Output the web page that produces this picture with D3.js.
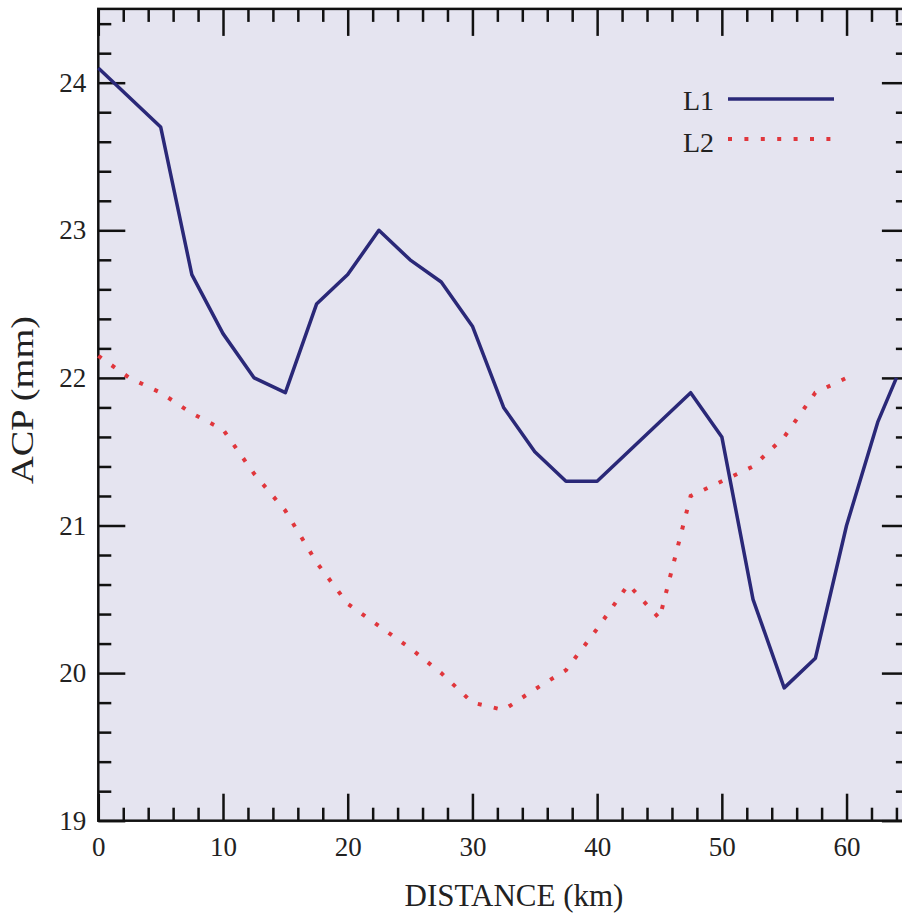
<!DOCTYPE html>
<html>
<head>
<meta charset="utf-8">
<title>ACP vs distance</title>
<script src="https://d3js.org/d3.v7.min.js"></script>
<style>
  body { margin: 0; background: #fff; }
  svg { display: block; font-family: "Liberation Serif", "Times New Roman", serif; }
  .axis path { display: none; }
  .axis line { stroke: #111; stroke-width: 2.5; }
  .axis text { font-size: 27px; fill: #222; font-family: "Liberation Serif", serif; }
</style>
</head>
<body>
<script>
// distance (km) for each sample
var distL1 = [0, 5, 7.5, 10, 12.5, 15, 17.5, 20, 22.5, 25, 27.5, 30, 32.5, 35, 37.5, 40,
              42.5, 45, 47.5, 50, 52.5, 55, 57.5, 60, 62.5, 64];
var acpL1 = [24.1, 23.7, 22.7, 22.3, 22.0, 21.9, 22.5, 22.7, 23.0, 22.8, 22.65, 22.35, 21.8, 21.5, 21.3, 21.3,
             21.5, 21.7, 21.9, 21.6, 20.5, 19.9, 20.1, 21.0, 21.7, 22.0];

var distL2 = [0, 2.5, 5, 7.5, 10, 12.5, 15, 17.5, 20, 22.5, 25, 27.5, 30, 32.5, 35, 37.5, 40,
              42.5, 45, 47.5, 50, 52.5, 55, 57.5, 60];
var acpL2 = [22.15, 22.0, 21.9, 21.76, 21.65, 21.35, 21.1, 20.75, 20.47, 20.32, 20.17, 20.0, 19.8, 19.75, 19.89, 20.02, 20.3,
             20.6, 20.37, 21.2, 21.3, 21.4, 21.6, 21.9, 22.0];

var xMajor = [0, 10, 20, 30, 40, 50, 60];
var yMajor = [19, 20, 21, 22, 23, 24];
var seriesNames = ["L1", "L2"];

var W = 902, H = 915;
var svg = d3.select("body").append("svg")
    .attr("width", W)
    .attr("height", H);

var x = d3.scaleLinear().domain([0, 65]).range([98.3, 908.9]);
var y = d3.scaleLinear().domain([19, 24.5]).range([820.7, 8.9]);

// plot background
svg.append("rect")
    .attr("x", x(0)).attr("y", y(24.5))
    .attr("width", x(65) - x(0)).attr("height", y(19) - y(24.5))
    .attr("fill", "#e5e4f0");

// minor ticks
var xMinor = d3.range(0, 65.01, 2).filter(function(v) { return v % 10 !== 0; });
var yMinor = d3.range(19, 24.51, 0.2).filter(function(v) { return Math.abs(v - Math.round(v)) > 0.01; });

svg.append("g").attr("class", "axis")
    .attr("transform", "translate(0," + y(19) + ")")
    .call(d3.axisBottom(x).tickValues(xMinor).tickSize(-13).tickFormat(""));
svg.append("g").attr("class", "axis")
    .attr("transform", "translate(0," + y(24.5) + ")")
    .call(d3.axisTop(x).tickValues(xMinor).tickSize(-13).tickFormat(""));
svg.append("g").attr("class", "axis")
    .attr("transform", "translate(" + x(0) + ",0)")
    .call(d3.axisLeft(y).tickValues(yMinor).tickSize(-13).tickFormat(""));
svg.append("g").attr("class", "axis")
    .attr("transform", "translate(" + x(65) + ",0)")
    .call(d3.axisRight(y).tickValues(yMinor).tickSize(-13).tickFormat(""));

// major ticks + labels
svg.append("g").attr("class", "axis")
    .attr("transform", "translate(0," + y(19) + ")")
    .call(d3.axisBottom(x).tickValues(xMajor).tickSize(-27).tickPadding(16).tickFormat(d3.format("d")));
svg.append("g").attr("class", "axis")
    .attr("transform", "translate(0," + y(24.5) + ")")
    .call(d3.axisTop(x).tickValues(xMajor).tickSize(-27).tickFormat(""));
svg.append("g").attr("class", "axis")
    .attr("transform", "translate(" + x(0) + ",0)")
    .call(d3.axisLeft(y).tickValues(yMajor).tickSize(-27).tickPadding(12).tickFormat(d3.format("d")));
svg.append("g").attr("class", "axis")
    .attr("transform", "translate(" + x(65) + ",0)")
    .call(d3.axisRight(y).tickValues(yMajor).tickSize(-27).tickFormat(""));

// frame
svg.append("rect")
    .attr("x", x(0)).attr("y", y(24.5))
    .attr("width", x(65) - x(0)).attr("height", y(19) - y(24.5))
    .attr("fill", "none")
    .attr("stroke", "#111")
    .attr("stroke-width", 2.5);

var line = d3.line()
    .x(function(d) { return x(d[0]); })
    .y(function(d) { return y(d[1]); });

svg.append("path")
    .datum(d3.zip(distL2, acpL2))
    .attr("d", line)
    .attr("fill", "none")
    .attr("stroke", "#e0363c")
    .attr("stroke-width", 4)
    .attr("stroke-dasharray", "4 12.4");

svg.append("path")
    .datum(d3.zip(distL1, acpL1))
    .attr("d", line)
    .attr("fill", "none")
    .attr("stroke", "#2a2878")
    .attr("stroke-width", 3.5)
    .attr("stroke-linejoin", "round");

// legend
var legend = svg.append("g");
legend.append("text").attr("x", 714).attr("y", 110)
    .attr("text-anchor", "end").attr("font-size", 28).attr("fill", "#222")
    .text(seriesNames[0]);
legend.append("line").attr("x1", 728).attr("x2", 834).attr("y1", 99).attr("y2", 99)
    .attr("stroke", "#2a2878").attr("stroke-width", 3.5);
legend.append("text").attr("x", 714).attr("y", 152)
    .attr("text-anchor", "end").attr("font-size", 28).attr("fill", "#222")
    .text(seriesNames[1]);
legend.append("line").attr("x1", 728).attr("x2", 834).attr("y1", 139).attr("y2", 139)
    .attr("stroke", "#e0363c").attr("stroke-width", 4)
    .attr("stroke-dasharray", "4 12.4");

// axis titles
svg.append("text")
    .attr("x", 514).attr("y", 906)
    .attr("text-anchor", "middle")
    .attr("font-size", 31).attr("fill", "#222")
    .text("DISTANCE (km)");

svg.append("text")
    .attr("transform", "translate(33,400) rotate(-90)")
    .attr("text-anchor", "middle")
    .attr("font-size", 31).attr("fill", "#222")
    .attr("textLength", 168).attr("lengthAdjust", "spacingAndGlyphs")
    .text("ACP (mm)");
</script>
</body>
</html>
